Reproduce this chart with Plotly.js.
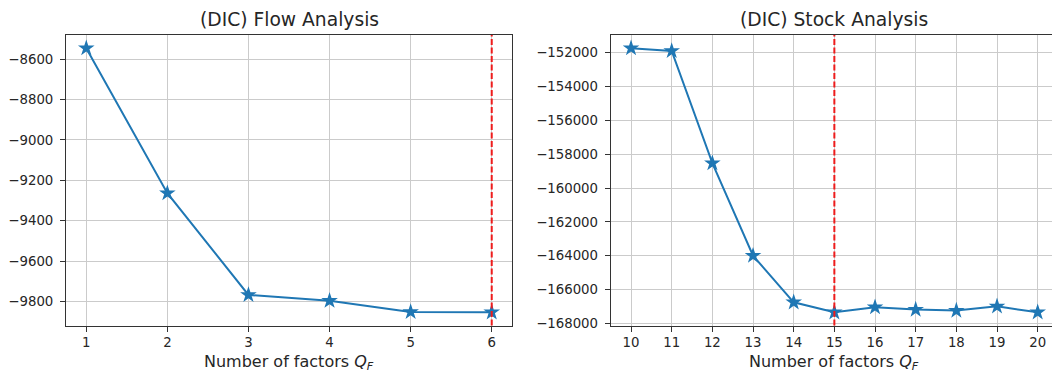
<!DOCTYPE html>
<html>
<head>
<meta charset="utf-8">
<script src="https://cdn.plot.ly/plotly-3.0.1.min.js"></script>
<style>html,body{margin:0;padding:0;background:#fff;}#chart{width:1052px;height:372px;}</style>
</head>
<body>
<div id="chart"></div>
<script>
// ---- data ----
const flowFactors = [1, 2, 3, 4, 5, 6];
const flowDIC = [-8546, -9264, -9768, -9797, -9852, -9854];
const flowBest = 6;

const stockFactors = [10, 11, 12, 13, 14, 15, 16, 17, 18, 19, 20];
const stockDIC = [-151740, -151900, -158530, -164000, -166750, -167340, -167040, -167180, -167240, -166990, -167340];
const stockBest = 15;

const titles = ["(DIC) Flow Analysis", "(DIC) Stock Analysis"];
const xLabel = "Number of factors <i>Q</i><sub><i>F</i></sub>";

// ---- style ----
const blue = "#1f77b4";
const FONT = "DejaVu Sans, sans-serif";
const txt = "#262626";
const gridC = "#cbcbcb";
const spine = "#333333";

const lineTrace = (x, y, xa, ya) => ({
  x: x, y: y, xaxis: xa, yaxis: ya, type: "scatter", mode: "lines+markers",
  line: {color: blue, width: 2},
  marker: {symbol: "star", size: 12.5, color: blue},
  hoverinfo: "x+y", showlegend: false
});

const data = [
  lineTrace(flowFactors, flowDIC, "x", "y"),
  lineTrace(stockFactors, stockDIC, "x2", "y2")
];

const axBase = {
  showgrid: true, gridcolor: gridC, gridwidth: 1,
  zeroline: false, showline: true, linecolor: spine, linewidth: 1,
  ticks: "outside", ticklen: 5, tickwidth: 1, tickcolor: spine,
  tickfont: {family: FONT, size: 13.3, color: txt},
  tickformat: "d", fixedrange: true
};

const yDom = [1 - 325.5 / 372, 1 - 35 / 372];

const layout = {
  width: 1052, height: 372,
  margin: {l: 0, r: 0, t: 0, b: 0},
  paper_bgcolor: "#ffffff", plot_bgcolor: "#ffffff",
  font: {family: FONT, color: txt},
  xaxis: Object.assign({}, axBase, {
    domain: [66 / 1052, 512 / 1052], range: [0.75, 6.25],
    tickmode: "array", tickvals: flowFactors, mirror: true, anchor: "y"
  }),
  yaxis: Object.assign({}, axBase, {
    domain: yDom, range: [-9919.4, -8480.6],
    tick0: -9800, dtick: 200, mirror: true, anchor: "x", ticklabelstandoff: 4
  }),
  xaxis2: Object.assign({}, axBase, {
    domain: [610.7 / 1052, 1], range: [9.5, 20 + (1052 - 1037.7) / 40.6],
    tickmode: "array", tickvals: stockFactors, mirror: true, anchor: "y2"
  }),
  yaxis2: Object.assign({}, axBase, {
    domain: yDom, range: [-168120, -150960],
    tick0: -168000, dtick: 2000, mirror: false, anchor: "x2", ticklabelstandoff: 4
  }),
  shapes: [
    {type: "line", xref: "x", yref: "y domain", x0: flowBest, x1: flowBest, y0: 0, y1: 1,
     line: {color: "#ee1c1c", width: 2, dash: "6px,2.5px"}, layer: "above"},
    {type: "line", xref: "x2", yref: "y2 domain", x0: stockBest, x1: stockBest, y0: 0, y1: 1,
     line: {color: "#ee1c1c", width: 2, dash: "6px,2.5px"}, layer: "above"}
  ],
  annotations: [
    {text: titles[0], xref: "paper", yref: "paper", x: 289 / 1052, y: 1 - 20 / 372,
     xanchor: "center", yanchor: "middle", showarrow: false,
     font: {family: FONT, size: 18.7, color: txt}},
    {text: titles[1], xref: "paper", yref: "paper", x: 834 / 1052, y: 1 - 20 / 372,
     xanchor: "center", yanchor: "middle", showarrow: false,
     font: {family: FONT, size: 18.7, color: txt}},
    {text: xLabel, xref: "paper", yref: "paper", x: 289 / 1052, y: 1 - 362 / 372,
     xanchor: "center", yanchor: "middle", showarrow: false,
     font: {family: FONT, size: 16, color: txt}},
    {text: xLabel, xref: "paper", yref: "paper", x: 834 / 1052, y: 1 - 362 / 372,
     xanchor: "center", yanchor: "middle", showarrow: false,
     font: {family: FONT, size: 16, color: txt}}
  ]
};

Plotly.newPlot("chart", data, layout, {displayModeBar: false, staticPlot: true});
</script>
</body>
</html>
